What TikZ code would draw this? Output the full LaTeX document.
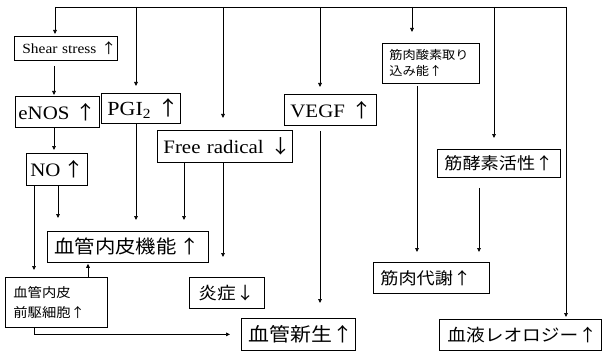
\documentclass[tikz,border=0pt]{standalone}
\usepackage{fontspec}
\setmainfont[FakeStretch=1.1]{Liberation Serif}
\newfontfamily\jp[FakeStretch=1.1]{Noto Sans CJK JP}
\usetikzlibrary{arrows.meta}
\begin{document}
\begin{tikzpicture}[x=1pt,y=-1pt,
  box/.style={draw=black, line width=0.8pt, anchor=north west, inner ysep=0pt, align=left},
  ln/.style={line width=0.7pt},
  arr/.style={ln, -{Triangle[length=4pt,width=3.6pt]}},
  lat/.style={font=\fontsize{19}{21}\selectfont},
  jpf/.style={font=\jp\fontsize{#1}{#1}\selectfont}
]
\useasboundingbox (0,0) rectangle (603,353);
% boxes
\node[box, inner xsep=8pt, text width=87pt, minimum height=24pt, font=\fontsize{14}{16}\selectfont] (shear) at (14,36) {\mbox{Shear stress {\jp ↑}}};
\node[box, lat, inner xsep=3pt, text width=78pt, minimum height=31pt] (enos) at (15,96) {\mbox{eNOS {\jp ↑}}};
\node[box, lat, inner xsep=4pt, text width=53pt, minimum height=32pt] (no) at (26,153) {\mbox{NO\,{\jp ↑}}};
\node[box, lat, font=\fontsize{20}{22}\selectfont, inner xsep=6pt, text width=67pt, minimum height=30pt] (pgi) at (101,93) {\mbox{PGI\textsubscript{2} {\jp ↑}}};
\node[box, lat, inner xsep=6pt, text width=123pt, minimum height=32pt] (fr) at (157,130) {\mbox{Free radical {\jp ↓}}};
\node[box, lat, inner xsep=6pt, text width=80pt, minimum height=31pt] (vegf) at (284,94) {\mbox{VEGF {\jp ↑}}};
\node[box, font=\jp\fontsize{12}{16}\selectfont, inner xsep=7pt, text width=83pt, minimum height=40pt] (o2) at (382,43) {\mbox{筋肉酸素取り}\\\mbox{込み能↑}};
\node[box, jpf=16.5, inner xsep=7pt, text width=109pt, minimum height=28pt] (enz) at (437,149) {\mbox{筋酵素活性↑}};
\node[box, jpf=16.5, inner xsep=7pt, text width=102pt, minimum height=31pt] (met) at (373,262) {\mbox{筋肉代謝↑}};
\node[box, jpf=17, inner xsep=8pt, text width=146pt, minimum height=31pt] (rheo) at (439,319) {\mbox{血液レオロジー↑}};
\node[box, jpf=19, inner xsep=7pt, text width=100pt, minimum height=32pt] (angio) at (241,318) {\mbox{血管新生↑}};
\node[box, jpf=17, inner xsep=9pt, text width=57pt, minimum height=31pt] (infl) at (189,277) {\mbox{炎症↓}};
\node[box, jpf=18.5, inner xsep=7pt, text width=147pt, minimum height=31pt] (endo) at (47,231) {\mbox{血管内皮機能\,↑}};
\node[box, font=\jp\fontsize{13}{20}\selectfont, inner xsep=8pt, text width=86pt, minimum height=50pt] (epc) at (5,277) {\mbox{血管内皮}\\\mbox{前駆細胞↑}};
% top distribution line
\coordinate (tl) at (55,7);
\coordinate (t1) at (136,7);
\coordinate (t2) at (223,7);
\coordinate (t3) at (320,7);
\coordinate (t4) at (412,7);
\coordinate (t5) at (494,7);
\coordinate (tr) at (566,7);
\draw[ln] (tl) -- (tr);
\draw[arr, shorten >=2pt] (tl) -- (tl |- shear.north);
\draw[arr, shorten >=7pt] (t1) -- (t1 |- pgi.north);
\draw[arr, shorten >=12pt] (t2) -- (t2 |- fr.north);
\draw[arr, shorten >=7pt] (t3) -- (t3 |- vegf.north);
\draw[arr, shorten >=11pt] (t4) -- (t4 |- o2.north);
\draw[arr, shorten >=11pt] (t5) -- (t5 |- enz.north);
\draw[arr, shorten >=2pt] (tr) -- (tr |- rheo.north);
% left chain
\draw[arr, shorten <=5pt, shorten >=1pt] (shear.south -| 54,0) -- (enos.north -| 54,0);
\draw[arr, shorten >=3pt] (enos.south -| 54,0) -- (no.north -| 54,0);
\draw[arr, shorten >=13pt] (no.south -| 58,0) -- (endo.north -| 58,0);
\draw[arr, shorten >=7pt] (no.south -| 34,0) -- (epc.north -| 34,0);
\draw[arr, shorten >=11pt] (pgi.south -| 136,0) -- (endo.north -| 136,0);
\draw[arr, shorten >=11pt] (fr.south -| 184,0) -- (endo.north -| 184,0);
\draw[arr, shorten >=20pt] (fr.south -| 223,0) -- (infl.north -| 223,0);
\draw[arr, shorten >=1pt] (epc.north -| 88,0) -- (endo.south -| 88,0);
\draw[arr, shorten >=11pt] (epc.south -| 34,0) |- (angio.west);
% right side
\draw[arr, shorten <=5pt, shorten >=15pt] (vegf.south -| 320,0) -- (angio.north -| 320,0);
\draw[arr, shorten <=2pt, shorten >=10pt] (o2.south -| 417,0) -- (met.north -| 417,0);
\draw[arr, shorten <=10pt, shorten >=10pt] (enz.south -| 479,0) -- (met.north -| 479,0);
\end{tikzpicture}
\end{document}
